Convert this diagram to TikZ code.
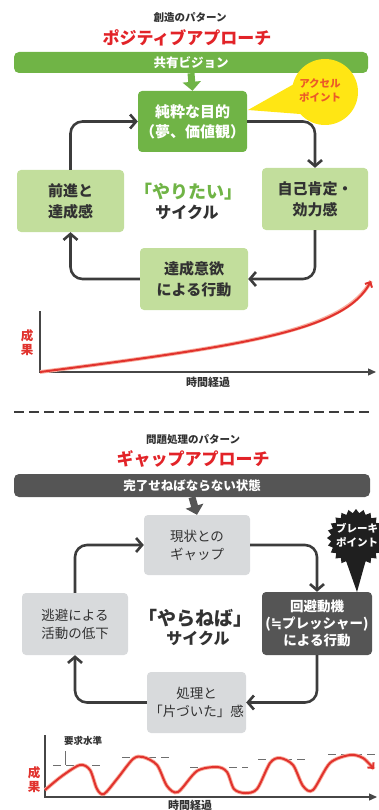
\documentclass[tikz,border=0pt]{standalone}
\usepackage{fontspec}
\newfontfamily\jp{Noto Sans CJK JP}
\newfontfamily\dejavu{DejaVu Sans}
\usetikzlibrary{arrows.meta}
\definecolor{gdark}{RGB}{112,180,70}
\definecolor{glight}{RGB}{194,222,156}
\definecolor{graylt}{RGB}{216,218,220}
\definecolor{graydk}{RGB}{85,85,85}
\definecolor{cyc}{RGB}{60,60,60}
\definecolor{titlered}{RGB}{226,35,40}
\definecolor{curvered}{RGB}{225,50,45}
\definecolor{halo}{RGB}{248,175,160}
\definecolor{yel}{RGB}{255,230,20}
\definecolor{accel}{RGB}{235,90,40}
\definecolor{txtdk}{RGB}{50,50,50}
\definecolor{axisc}{RGB}{70,70,70}
\definecolor{dashc}{RGB}{110,110,110}
\newcommand{\fsz}[2]{\fontsize{#1}{#2}\selectfont}
\begin{document}
\begin{tikzpicture}[x=1pt,y=-1pt,
  box/.style={rectangle, rounded corners=4pt, align=center, inner sep=0pt},
  gtop/.style={box, fill=gdark, text=white, font=\jp\bfseries\fsz{15}{20}},
  glt/.style={box, fill=glight, text=txtdk, font=\jp\bfseries\fsz{15}{21}},
  gyl/.style={box, fill=graylt, text=txtdk, font=\jp\fsz{13.5}{18}},
  gyd/.style={box, fill=graydk, text=white, font=\jp\bfseries\fsz{13.5}{17}},
  bar/.style={rectangle, rounded corners=5pt, inner sep=0pt, text=white, font=\jp\bfseries\fsz{12.5}{14}},
  cyca/.style={draw=cyc, line width=2.6pt, rounded corners=12pt, -{Straight Barb[length=6pt,width=14pt]}},
  axisline/.style={draw=axisc, line width=1.3pt, -{Triangle[length=8pt,width=7pt]}},
  halol/.style={draw=halo, line width=3.8pt},
  redl/.style={draw=curvered, line width=2pt},
  redtip/.style={-{Straight Barb[length=4pt,width=8pt]}},
  reslbl/.style={font=\jp\bfseries\fsz{12.5}{14}, text=curvered, align=center},
  timelbl/.style={font=\jp\bfseries\fsz{11}{13}, text=txtdk},
  subt/.style={font=\jp\bfseries\fsz{10.5}{12}, text=txtdk},
  titl/.style={font=\jp\bfseries\fsz{17}{20}, text=titlered},
  dashl/.style={draw=dashc, line width=1pt, dash pattern=on 8pt off 5pt}
]
\useasboundingbox (0,0) rectangle (379,810);

% ---------- top section ----------
\node[subt] (sub1) at (190,18) {創造のパターン};
\node[titl] (title1) at (187,38) {ポジティブアプローチ};
\node[bar, fill=gdark, minimum width=354pt, minimum height=21pt] (bar1) at (191,62.5) {共有ビジョン};

\node[gtop, minimum width=109pt, minimum height=61pt] (pure) at (192.5,121.5) {純粋な目的\\（夢、価値観）};
\node[glt, minimum width=107pt, minimum height=62pt] (prog) at (70.5,201) {前進と\\達成感};
\node[glt, minimum width=106pt, minimum height=62pt] (self) at (315,199) {自己肯定・\\効力感};
\node[glt, minimum width=108pt, minimum height=62pt] (act) at (194,279) {達成意欲\\による行動};

\draw[gdark, line width=7pt, -{Triangle[length=9pt,width=18pt]}] (bar1.south) -- (pure.north);

% accel point
\fill[yel] (325,92) circle (33);
\fill[yel] (294,84) -- (248,110) -- (300,114) -- cycle;
\node[font=\jp\bfseries\fsz{10.5}{14}, text=accel, align=center] (accel) at (320,90) {アクセル\\ポイント};

\node[font=\jp\bfseries\fsz{18}{20}, text=gdark] (yaritai) at (188,192) {「やりたい」};
\node[font=\jp\bfseries\fsz{16}{18}, text=txtdk] (cycle1) at (187,212) {サイクル};

\draw[cyca] (prog.north) |- (pure.west);
\draw[cyca] (pure.east) -| (self.north);
\draw[cyca] (self.south) |- (act.east);
\draw[cyca] (act.west) -| (prog.south);

% chart 1
\coordinate (y1top) at (40,311);
\coordinate (o1) at (40,372);
\coordinate (x1end) at (376,372);
\coordinate (c1end) at (371,281);
\draw[axisline] (y1top) -- (o1) -- (x1end);
\draw[halol] (o1) .. controls (250,345) and (345,330) .. (c1end);
\draw[redl, redtip] (o1) .. controls (250,345) and (345,330) .. (c1end);
\node[reslbl] (res1) at (27,343) {成\\果};
\node[timelbl] (time1) at (208,382) {時間経過};

% separator
\coordinate (sepL) at (14,412);
\coordinate (sepR) at (370,412);
\draw[dashl, draw=cyc, line width=1.2pt, dash pattern=on 10pt off 5pt] (sepL) -- (sepR);

% ---------- bottom section ----------
\node[subt] (sub2) at (193,440) {問題処理のパターン};
\node[titl] (title2) at (193,459) {ギャップアプローチ};
\node[bar, fill=graydk, minimum width=356pt, minimum height=23pt] (bar2) at (192,485.5) {完了せねばならない状態};

\node[gyl, minimum width=106pt, minimum height=60pt] (gap) at (197,545) {現状との\\ギャップ};
\node[gyl, minimum width=106pt, minimum height=62pt] (esc) at (75,624) {逃避による\\活動の低下};
\node[gyd, minimum width=110pt, minimum height=63pt] (avoid) at (317,623.5) {回避動機\\({\dejavu\bfseries ≒}プレッシャー)\\による行動};
\node[gyl, minimum width=99pt, minimum height=61pt] (done) at (196.5,702.5) {処理と\\「片づいた」感};

\draw[graydk, line width=7pt, -{Triangle[length=9pt,width=18pt]}] (bar2.south) -- (gap.north);

% brake point
\fill[black!88] (385,538) \foreach \i [evaluate=\i as \rr using {29-4*mod(\i,2)}] in {1,...,47} { -- ([shift={(356,538)}]{\i*7.5}:\rr) } -- cycle;
\fill[black!88] (345,558) -- (357,592) -- (367,556) -- cycle;
\node[font=\jp\bfseries\fsz{10.5}{14}, text=white, align=center] (brake) at (357,535) {ブレーキ\\ポイント};

\node[font=\jp\bfseries\fsz{19}{21}, text=txtdk] (yaraneba) at (195,618) {「やらねば」};
\node[font=\jp\bfseries\fsz{16}{18}, text=txtdk] (cycle2) at (198,638) {サイクル};

\draw[cyca] (esc.north) |- (gap.west);
\draw[cyca] (gap.east) -| (avoid.north);
\draw[cyca] (avoid.south) |- (done.east);
\draw[cyca] (done.west) -| (esc.south);

% chart 2
\coordinate (y2top) at (45,735);
\coordinate (o2) at (45,797);
\coordinate (x2end) at (377,797);
\draw[axisline] (y2top) -- (o2) -- (x2end);
\coordinate (d1a) at (53,765); \coordinate (d1b) at (103,765);
\coordinate (d2a) at (122,757); \coordinate (d2b) at (172,757);
\coordinate (d3a) at (190,767); \coordinate (d3b) at (248,767);
\coordinate (d4a) at (258,759); \coordinate (d4b) at (308,759);
\coordinate (d5a) at (328,754); \coordinate (d5b) at (379,754);
\draw[dashl] (d1a) -- (d1b);
\draw[dashl] (d2a) -- (d2b);
\draw[dashl] (d3a) -- (d3b);
\draw[dashl] (d4a) -- (d4b);
\draw[dashl] (d5a) -- (d5b);
\coordinate (tickT) at (65,751);
\coordinate (tickB) at (65,765);
\draw[dashc, line width=0.8pt] (tickT) -- (tickB);
\node[font=\jp\bfseries\fsz{9.5}{11}, text=txtdk] (req) at (83,741) {要求水準};
\def\wave{(45,790) (62,776) (80,765) (90,770) (97,789) (104,794) (117,779) (133,759) (143,757) (157,765) (167,786) (178,792) (197,771) (217,767) (227,772) (234,789) (245,793) (257,789) (270,763) (280,758) (293,765) (303,786) (313,790) (330,763) (350,755) (363,758) (374,769)}
\draw[halol] plot[smooth, tension=0.5] coordinates {\wave};
\draw[redl, redtip] plot[smooth, tension=0.5] coordinates {\wave};
\node[reslbl] (res2) at (34,780) {成\\果};
\node[timelbl] (time2) at (190,805) {時間経過};
\end{tikzpicture}
\end{document}
